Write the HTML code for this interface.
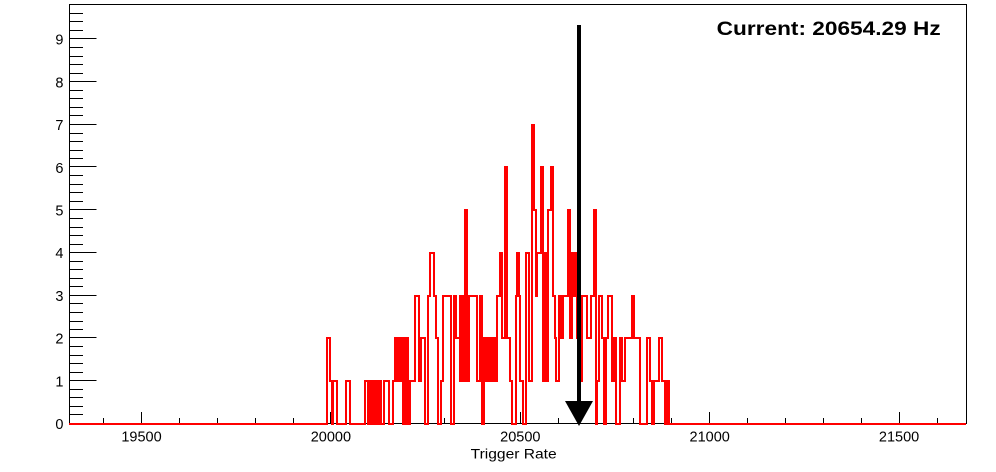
<!DOCTYPE html>
<html>
<head>
<meta charset="utf-8">
<style>
  html,body{margin:0;padding:0;background:#fff;}
  body{width:996px;height:472px;overflow:hidden;}
  svg{display:block;}
  text{font-family:"Liberation Sans",Arial,sans-serif;fill:#000;}
</style>
</head>
<body>
<svg width="996" height="472" viewBox="0 0 996 472" xmlns="http://www.w3.org/2000/svg">
  <rect x="0" y="0" width="996" height="472" fill="#fff"/>
  <!-- frame -->
  <rect x="69.5" y="4.5" width="897" height="419" fill="none" stroke="#000" stroke-width="1"/>

  <!-- Y major ticks -->
  <path stroke="#000" stroke-width="1" fill="none" d="
    M69.5 380.5H96.5 M69.5 337.5H96.5 M69.5 295.5H96.5 M69.5 252.5H96.5
    M69.5 209.5H96.5 M69.5 166.5H96.5 M69.5 124.5H96.5 M69.5 81.5H96.5 M69.5 38.5H96.5"/>
  <!-- Y minor ticks -->
  <path stroke="#000" stroke-width="1" fill="none" d="
    M69.5 414.5H83 M69.5 406.5H83 M69.5 397.5H83 M69.5 389.5H83
    M69.5 372.5H83 M69.5 363.5H83 M69.5 355.5H83 M69.5 346.5H83
    M69.5 329.5H83 M69.5 321.5H83 M69.5 312.5H83 M69.5 303.5H83
    M69.5 286.5H83 M69.5 278.5H83 M69.5 269.5H83 M69.5 261.5H83
    M69.5 244.5H83 M69.5 235.5H83 M69.5 227.5H83 M69.5 218.5H83
    M69.5 201.5H83 M69.5 192.5H83 M69.5 184.5H83 M69.5 175.5H83
    M69.5 158.5H83 M69.5 150.5H83 M69.5 141.5H83 M69.5 133.5H83
    M69.5 115.5H83 M69.5 107.5H83 M69.5 98.5H83 M69.5 90.5H83
    M69.5 73.5H83 M69.5 64.5H83 M69.5 56.5H83 M69.5 47.5H83
    M69.5 30.5H83 M69.5 21.5H83 M69.5 13.5H83"/>

  <!-- X major ticks -->
  <path stroke="#000" stroke-width="1" fill="none" d="
    M141.5 424V412 M330.5 424V412 M520.5 424V412 M709.5 424V412 M899.5 424V412"/>
  <!-- X minor ticks -->
  <path stroke="#000" stroke-width="1" fill="none" d="
    M103.5 424V418 M179.5 424V418 M217.5 424V418 M255.5 424V418 M293.5 424V418
    M368.5 424V418 M406.5 424V418 M444.5 424V418 M482.5 424V418
    M558.5 424V418 M596.5 424V418 M633.5 424V418 M671.5 424V418
    M747.5 424V418 M785.5 424V418 M823.5 424V418 M861.5 424V418 M937.5 424V418"/>

  <!-- Y labels -->
  <g font-size="14.5" text-anchor="end">
    <text x="63.5" y="429.2">0</text>
    <text x="63.5" y="386.5">1</text>
    <text x="63.5" y="343.7">2</text>
    <text x="63.5" y="301">3</text>
    <text x="63.5" y="258.2">4</text>
    <text x="63.5" y="215.5">5</text>
    <text x="63.5" y="172.8">6</text>
    <text x="63.5" y="130">7</text>
    <text x="63.5" y="87.3">8</text>
    <text x="63.5" y="44.6">9</text>
  </g>
  <!-- X labels -->
  <g font-size="14.5" text-anchor="middle">
    <text x="141.5" y="441.5">19500</text>
    <text x="330.9" y="441.5">20000</text>
    <text x="520.3" y="441.5">20500</text>
    <text x="709.7" y="441.5">21000</text>
    <text x="899.1" y="441.5">21500</text>
  </g>
  <text x="470.7" y="458.3" font-size="14" textLength="86" lengthAdjust="spacingAndGlyphs">Trigger Rate</text>

  <!-- histogram dense blocks -->
  <g fill="#ff0000">
    <rect x="369" y="380" width="13" height="45"/>
    <rect x="394" y="337" width="9" height="45"/>
    <rect x="403" y="337" width="6" height="88"/>
    <rect x="459" y="295" width="7" height="87"/>
    <rect x="466" y="295" width="4" height="87"/>
    <rect x="483" y="337" width="15" height="45"/>
    <rect x="542" y="252" width="7" height="130"/>
    <rect x="571" y="252" width="7" height="45"/>
    <rect x="664" y="380" width="6" height="45"/>
  </g>
  <!-- histogram outline -->
  <path fill="none" stroke="#ff0000" stroke-width="2" stroke-linejoin="miter" d="
    M69 424
    H327 V338
    H330 V381
    H332 V424
    H333 V381
    H337 V424
    H346 V381
    H350 V424
    H365 V381
    H368 V424
    H370 V381 H381 V424
    H384 V381
    H389 V424
    H393 V381
    H395 V338 H402 V381
    H403 V424
    H404 V338 H408 V424
    H410 V381
    H415 V296
    H419 V381
    H421 V338
    H425 V424
    H428 V296
    H430 V253
    H434 V296
    H436 V338
    H438 V424
    H441 V381
    H443 V296
    H451 V424
    H454 V296
    H456 V338
    H460 V296 H465 V210
    H467 V296
    H477 V381
    H480 V296
    H482 V424
    H484 V338 H497 V296
    H500 V253
    H502 V338
    H505 V167
    H507 V338
    H510 V381
    H512 V424
    H516 V296
    H517 V253
    H519 V296
    H520 V381
    H523 V424
    H526 V253
    H529 V381
    H532 V125
    H534 V210
    H536 V296
    H537 V253
    H541 V167
    H543 V253 H548 V210
    H551 V167
    H553 V296
    H555 V338
    H556 V381
    H559 V296
    H561 V338
    H563 V296
    H568 V210
    H570 V338
    H572 V253 H577 V338
    H581 V381
    H582 V296
    H587 V338
    H591 V296
    H594 V210
    H596 V424
    H597 V381
    H599 V296
    H602 V338
    H604 V424
    H606 V338
    H608 V296
    H612 V381
    H614 V338
    H616 V424
    H620 V338
    H622 V381
    H625 V338
    H632 V296
    H634 V338
    H640 V424
    H647 V338
    H650 V381
    H652 V424
    H654 V381
    H659 V338
    H662 V381
    H669 V424
    H966"/>

  <!-- arrow -->
  <rect x="577" y="25" width="4" height="378" fill="#000"/>
  <polygon points="565,401 593,401 579,426" fill="#000"/>

  <!-- current label -->
  <text x="716.7" y="35" font-size="19.5" font-weight="bold" textLength="224" lengthAdjust="spacingAndGlyphs">Current: 20654.29 Hz</text>
</svg>
</body>
</html>
